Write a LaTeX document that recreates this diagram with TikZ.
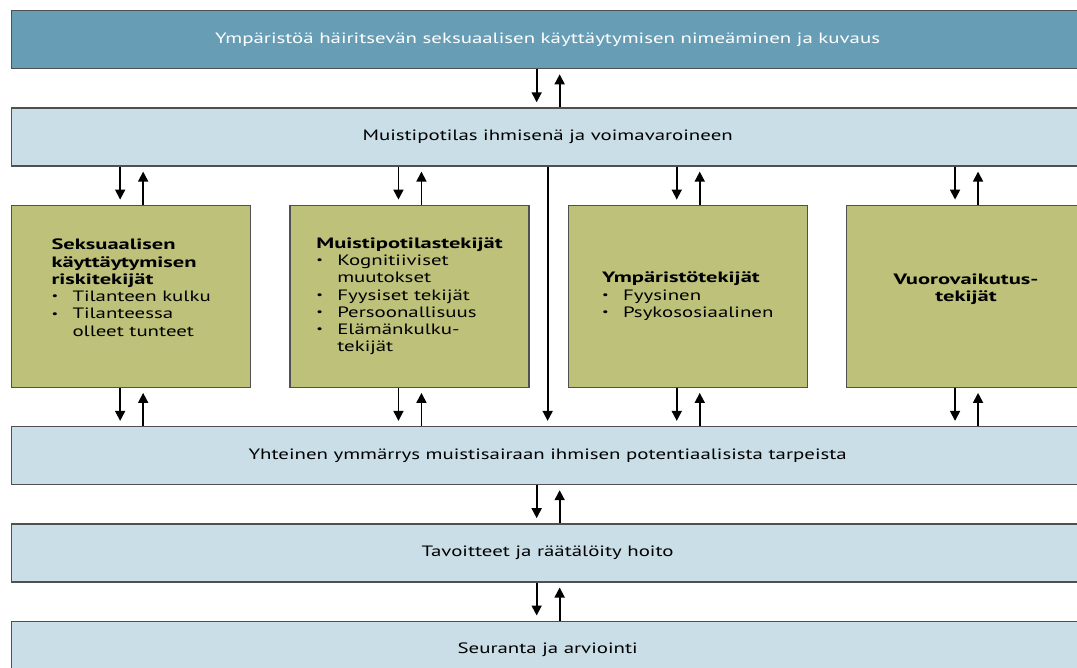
\documentclass[tikz,border=0pt]{standalone}
\usepackage{fontspec}
\setmainfont[FakeStretch=1.39, BoldFeatures={FakeStretch=1.5}]{PT Sans}
\usetikzlibrary{positioning,arrows.meta}
\definecolor{topblue}{RGB}{103,158,182}
\definecolor{paleblue}{RGB}{202,222,232}
\definecolor{olive}{RGB}{189,193,122}
\definecolor{edge}{RGB}{80,80,80}
\newcommand{\itm}[1]{\makebox[21pt][l]{\raisebox{0.25ex}{\scalebox{0.7}{\textbullet}}}#1}
\newcommand{\cnt}[1]{\hspace*{21pt}#1}

\begin{document}
\begin{tikzpicture}[x=1pt,y=-1pt,font=\fontsize{15}{17.3}\selectfont,
		node distance=38pt,
		bar/.style={draw=edge, line width=1.3pt, fill=paleblue, minimum width=1072pt,
		minimum height=58pt, inner sep=0pt},
		factor/.style={draw=edge, line width=1.3pt, fill=olive, minimum width=239pt,
		minimum height=182pt, inner sep=0pt, align=left},
		arr/.style={line width=1.7pt, -{Triangle[width=10pt,length=10pt]}, shorten >=5pt}]
		\useasboundingbox (0,0) rectangle (1077,668);
		\clip (0,0) rectangle (1077,668);
		% bars
		\node[bar, fill=topblue, text=white, anchor=north west] (kuvaus) at (11,10)
			{Ympäristöä häiritsevän seksuaalisen käyttäytymisen nimeäminen ja kuvaus};
		\node[bar, below=of kuvaus] (potilas) {Muistipotilas ihmisenä ja voimavaroineen};
		% factor boxes
		\node[factor, below=of potilas.south west, anchor=north west] (riski)
			{\textbf{Seksuaalisen}\\ \textbf{käyttäytymisen}\\ \textbf{riskitekijät}\\
			\itm{Tilanteen kulku}\\ \itm{Tilanteessa}\\ \cnt{olleet tunteet}\\ \mbox{}};
		\node[factor, right=of riski] (muisti)
			{\textbf{Muistipotilastekijät}\\ \itm{Kognitiiviset}\\ \cnt{muutokset}\\
			\itm{Fyysiset tekijät}\\ \itm{Persoonallisuus}\\ \itm{Elämänkulku-}\\ \cnt{tekijät}};
		\node[factor, right=of muisti] (ymparisto)
			{\textbf{Ympäristötekijät}\\ \itm{Fyysinen}\\ \itm{Psykososiaalinen}};
		\node[factor, right=of ymparisto, align=center, font=\fontsize{15}{17.3}\selectfont\bfseries] (vuoro)
			{Vuorovaikutus-\\ tekijät\\ \mbox{}};
		\node[bar, below=of riski.south west, anchor=north west] (ymmarrys)
			{Yhteinen ymmärrys muistisairaan ihmisen potentiaalisista tarpeista};
		\node[bar, below=of ymmarrys] (hoito) {Tavoitteet ja räätälöity hoito};
		\node[bar, below=of hoito] (seuranta) {Seuranta ja arviointi};
		% arrows
		\draw[arr] ([xshift=-11pt]kuvaus.south) -- ([xshift=-11pt]potilas.north);
		\draw[arr] ([xshift=12pt]potilas.north) -- ([xshift=12pt]kuvaus.south);
		\foreach \f in {riski,muisti,ymparisto,vuoro}{
			\draw[arr] ([xshift=-11pt]\f.north |- potilas.south) -- ([xshift=-11pt]\f.north);
			\draw[arr] ([xshift=12pt]\f.north) -- ([xshift=12pt]\f.north |- potilas.south);
			\draw[arr] ([xshift=-11pt]\f.south) -- ([xshift=-11pt]\f.south |- ymmarrys.north);
			\draw[arr] ([xshift=12pt]\f.south |- ymmarrys.north) -- ([xshift=12pt]\f.south);
		}
		\draw[arr] (potilas.south) -- (ymmarrys.north);
		\draw[arr] ([xshift=-11pt]ymmarrys.south) -- ([xshift=-11pt]hoito.north);
		\draw[arr] ([xshift=12pt]hoito.north) -- ([xshift=12pt]ymmarrys.south);
		\draw[arr] ([xshift=-11pt]hoito.south) -- ([xshift=-11pt]seuranta.north);
		\draw[arr] ([xshift=12pt]seuranta.north) -- ([xshift=12pt]hoito.south);
	\end{tikzpicture}
\end{document}
